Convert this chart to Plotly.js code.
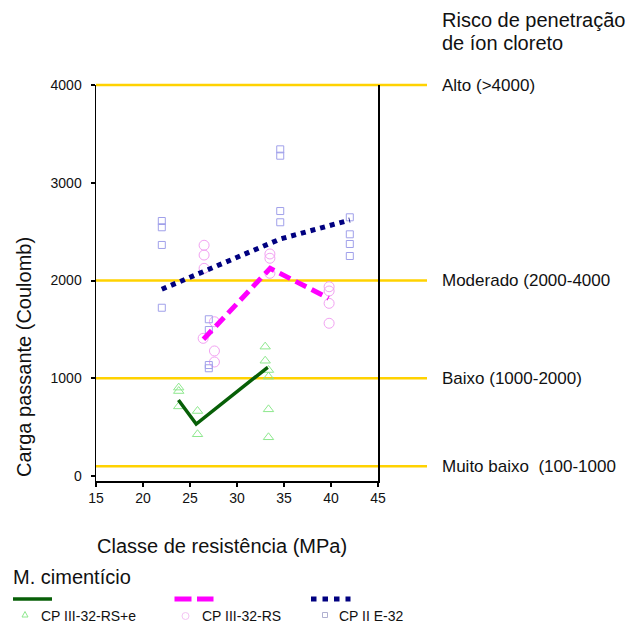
<!DOCTYPE html>
<html><head><meta charset="utf-8">
<script src="https://cdn.plot.ly/plotly-3.0.1.min.js"></script>
<style>html,body{margin:0;padding:0;background:#fff}</style>
</head><body><div id="chart" style="width:626px;height:626px"></div>
<script>
// ---- data ----
const triX = [23.8, 23.8, 23.8, 25.8, 25.8, 33.0, 33.0, 33.35, 33.35, 33.35, 33.35];
const triY = [905, 870, 713, 666, 428, 1324, 1180, 1085, 1017, 683, 397];
const cirX = [26.5, 26.5, 26.5, 26.4, 27.6, 27.6, 27.6, 33.5, 33.5, 33.5, 39.8, 39.8, 39.8, 39.8];
const cirY = [2361, 2261, 2125, 1409, 1579, 1280, 1167, 2272, 2228, 2074, 1937, 1893, 1767, 1563];
const sqX = [22, 22, 22, 22, 27, 27, 27, 27, 34.6, 34.6, 34.6, 34.6, 42, 42, 42, 42];
const sqY = [2609, 2545, 2364, 1722, 1604, 1494, 1136, 1103, 3342, 3277, 2711, 2596, 2647, 2473, 2374, 2251];
const greenLineX = [23.77, 25.66, 33.27];
const greenLineY = [778, 533, 1113];
const magLineX = [26.43, 33.53, 39.74];
const magLineY = [1399, 2125, 1819];
const navyLineX = [22.0, 34.6, 42.0];
const navyLineY = [1911, 2425, 2619];
const seriesNames = ['CP III-32-RS+e', 'CP III-32-RS', 'CP II E-32'];
const levels = [4000, 2000, 1000, 100];
const levelLabels = ['Alto (>4000)', 'Moderado (2000-4000', 'Baixo (1000-2000)', 'Muito baixo\u00a0 (100-1000'];
const xTicks = [15, 20, 25, 30, 35, 40, 45];
const yTicks = [0, 1000, 2000, 3000, 4000];

// ---- layout helpers ----
const FONT = '"Liberation Sans", Arial, sans-serif';
const L = 96, R = 378, T = 85, B = 481;
const Y_RANGE = [-50, 4000];
const PX = x => (x - L) / (R - L);
const PY = y => (B - y) / (B - T);
const VY = v => (v - Y_RANGE[0]) / (Y_RANGE[1] - Y_RANGE[0]);
const C_TRI = '#8ee88e', C_CIR = '#f2a2f2', C_SQ = '#a0a0ea';
const C_GREEN = '#075f07', C_MAG = '#ff00ff', C_NAVY = '#000080', GOLD = '#ffd200';

const traces = [
  {x: triX, y: triY, mode: 'markers', type: 'scatter', name: seriesNames[0],
   marker: {symbol: 'triangle-up-open', size: 9, color: C_TRI, line: {width: 1, color: C_TRI}}},
  {x: cirX, y: cirY, mode: 'markers', type: 'scatter', name: seriesNames[1],
   marker: {symbol: 'circle-open', size: 10, color: C_CIR, line: {width: 1, color: C_CIR}}},
  {x: sqX, y: sqY, mode: 'markers', type: 'scatter', name: seriesNames[2],
   marker: {symbol: 'square-open', size: 7, color: C_SQ, line: {width: 1, color: C_SQ}}},
  {x: greenLineX, y: greenLineY, mode: 'lines', type: 'scatter', line: {color: C_GREEN, width: 3.5}},
  {x: magLineX, y: magLineY, mode: 'lines', type: 'scatter', line: {color: C_MAG, width: 5, dash: '12px,6px'}},
  {x: navyLineX, y: navyLineY, mode: 'lines', type: 'scatter', line: {color: C_NAVY, width: 5, dash: '5px,5px'}}
];

const shapes = levels.map(v => ({type: 'line', xref: 'paper', yref: 'paper', x0: 0, x1: PX(427), y0: VY(v), y1: VY(v),
  line: {color: GOLD, width: 2.5}, layer: 'below'}));
// legend samples
const legY = PY(599);
shapes.push({type: 'line', xref: 'paper', yref: 'paper', x0: PX(13), x1: PX(52), y0: legY, y1: legY, line: {color: C_GREEN, width: 3.5}});
shapes.push({type: 'line', xref: 'paper', yref: 'paper', x0: PX(174.5), x1: PX(213.5), y0: legY, y1: legY, line: {color: C_MAG, width: 5, dash: '17px,5.5px'}});
shapes.push({type: 'line', xref: 'paper', yref: 'paper', x0: PX(311), x1: PX(350.5), y0: legY, y1: legY, line: {color: C_NAVY, width: 5, dash: '5.5px,6px'}});
shapes.push({type: 'path', xref: 'paper', yref: 'paper',
  path: `M ${PX(22)},${PY(617)} L ${PX(28)},${PY(617)} L ${PX(25)},${PY(611.5)} Z`, line: {color: C_TRI, width: 1}});
shapes.push({type: 'circle', xref: 'paper', yref: 'paper', x0: PX(182), x1: PX(189), y0: PY(612.5), y1: PY(619.5), line: {color: '#f4c4f4', width: 1}});
shapes.push({type: 'rect', xref: 'paper', yref: 'paper', x0: PX(322.5), x1: PX(327.5), y0: PY(612.5), y1: PY(617.5), line: {color: '#b0b0d0', width: 1}});

const txt = (text, x, y, size, extra) => Object.assign({text, xref: 'paper', yref: 'paper', x, y,
  showarrow: false, xanchor: 'left', yanchor: 'middle', font: {family: FONT, size, color: '#111'}}, extra || {});

const annotations = [
  txt('Classe de resistência (MPa)', PX(221.7), PY(546), 20, {xanchor: 'center'}),
  txt('Carga passante (Coulomb)', PX(24), PY(357), 20, {xanchor: 'center', textangle: -90}),
  txt('Risco de penetração', PX(439.5), PY(20), 20),
  txt('de íon cloreto', PX(439.5), PY(43.5), 20),
  txt('M. cimentício', PX(11), PY(577), 20),
  txt(seriesNames[0], PX(39), PY(616), 14),
  txt(seriesNames[1], PX(200), PY(616), 14),
  txt(seriesNames[2], PX(336.5), PY(616), 14)
];
levels.forEach((v, i) => annotations.push(txt(levelLabels[i], PX(439.5), VY(v), 17)));

const layout = {
  width: 626, height: 626,
  margin: {l: L, r: 626 - R, t: T, b: 626 - B, pad: 0},
  paper_bgcolor: '#fff', plot_bgcolor: '#fff',
  showlegend: false,
  font: {family: FONT, color: '#111', size: 14},
  xaxis: {range: [15, 45], tickvals: xTicks, ticktext: xTicks.map(String), showgrid: false, zeroline: false,
    showline: true, linecolor: '#000', linewidth: 1.5, ticks: 'outside', ticklen: 4, tickwidth: 2, tickcolor: '#000',
    tickfont: {family: FONT, size: 14, color: '#111'}},
  yaxis: {range: Y_RANGE, tickvals: yTicks, ticktext: yTicks.map(String), showgrid: false, zeroline: false,
    showline: true, mirror: true, linecolor: '#000', linewidth: 1.5, ticks: 'outside', ticklen: 4, tickwidth: 2, tickcolor: '#000',
    tickfont: {family: FONT, size: 14, color: '#111'}, ticklabelstandoff: 6},
  shapes, annotations
};

Plotly.newPlot('chart', traces, layout, {staticPlot: true, displayModeBar: false});
</script></body></html>
